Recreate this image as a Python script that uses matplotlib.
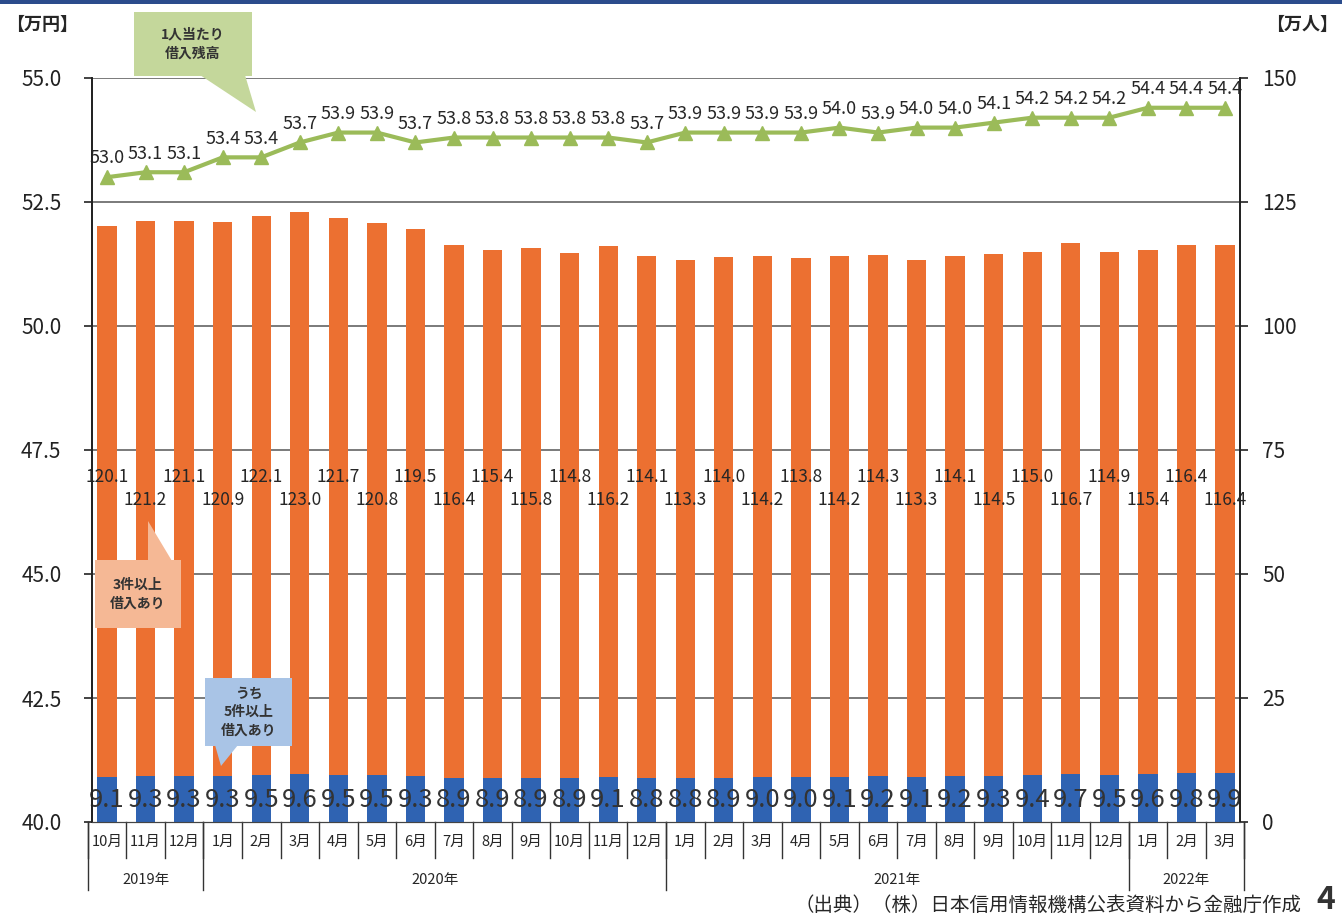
"""Multiple-borrower trend chart (bars + line, twin axes)."""
import matplotlib.pyplot as plt
from matplotlib.patches import Polygon, Rectangle
from matplotlib.transforms import blended_transform_factory

plt.rcParams["font.family"] = ["Noto Sans CJK JP", "DejaVu Sans"]

# %% Data
months = ["10月", "11月", "12月",
          "1月", "2月", "3月", "4月", "5月", "6月", "7月", "8月", "9月", "10月", "11月", "12月",
          "1月", "2月", "3月", "4月", "5月", "6月", "7月", "8月", "9月", "10月", "11月", "12月",
          "1月", "2月", "3月"]
years = ["2019年", "2020年", "2021年", "2022年"]
year_counts = [3, 12, 12, 3]

# 3件以上借入あり (万人)
total_people = [120.1, 121.2, 121.1, 120.9, 122.1, 123.0, 121.7, 120.8, 119.5, 116.4,
                115.4, 115.8, 114.8, 116.2, 114.1, 113.3, 114.0, 114.2, 113.8, 114.2,
                114.3, 113.3, 114.1, 114.5, 115.0, 116.7, 114.9, 115.4, 116.4, 116.4]
# うち5件以上借入あり (万人)
five_plus = [9.1, 9.3, 9.3, 9.3, 9.5, 9.6, 9.5, 9.5, 9.3, 8.9,
             8.9, 8.9, 8.9, 9.1, 8.8, 8.8, 8.9, 9.0, 9.0, 9.1,
             9.2, 9.1, 9.2, 9.3, 9.4, 9.7, 9.5, 9.6, 9.8, 9.9]
# 1人当たり借入残高 (万円)
per_person = [53.0, 53.1, 53.1, 53.4, 53.4, 53.7, 53.9, 53.9, 53.7, 53.8,
              53.8, 53.8, 53.8, 53.8, 53.7, 53.9, 53.9, 53.9, 53.9, 54.0,
              53.9, 54.0, 54.0, 54.1, 54.2, 54.2, 54.2, 54.4, 54.4, 54.4]

left_ticks = [40.0, 42.5, 45.0, 47.5, 50.0, 52.5, 55.0]
right_ticks = [0, 25, 50, 75, 100, 125, 150]

ORANGE = "#EC7031"
BLUE = "#2F63B2"
GREEN = "#9BBB59"
TXT = "#262626"

W, H = 1342, 921
fig = plt.figure(figsize=(W / 100, H / 100), dpi=100)
ax = fig.add_axes([92 / W, 1 - 822 / H, (1240 - 92) / W, (822 - 78) / H])
ax2 = ax.twinx()

x = list(range(len(months)))

# %% Bars on the right axis
ax2.bar(x, total_people, width=0.5, color=ORANGE, zorder=2)
ax2.bar(x, five_plus, width=0.5, color=BLUE, zorder=3)
ax2.set_ylim(0, 150)
ax2.set_yticks(right_ticks)
ax2.set_yticklabels([str(t) for t in right_ticks])

for i, (t, f) in enumerate(zip(total_people, five_plus)):
    ty = 69.6 if i % 2 == 0 else 65.0
    ax2.text(i, ty, f"{t:.1f}", ha="center", va="center", fontsize=12.5, color=TXT, zorder=5)
    ax2.text(i, 4.4, f"{f:.1f}", ha="center", va="center", fontsize=18.5, color="#333333",
             zorder=5)

# %% Line on the left axis (draw above bars)
ax.set_zorder(ax2.get_zorder() + 1)
ax.patch.set_visible(False)
ax.plot(x, per_person, color=GREEN, lw=3, marker="^", ms=10, zorder=4)
for i, v in enumerate(per_person):
    ax.annotate(f"{v:.1f}", (i, v), xytext=(0, 7), textcoords="offset points",
                ha="center", va="bottom", fontsize=13, color=TXT)
ax.set_ylim(40, 55)
ax.set_yticks(left_ticks)
ax.set_yticklabels([f"{t:.1f}" for t in left_ticks])
ax.set_xlim(-0.39, len(months) - 0.61)

# grid lines drawn on the left axis scale
for t in left_ticks[1:]:
    ax2.axhline((t - 40) / 15 * 150, color="#6f6f6f", lw=1.3, zorder=1)

for a in (ax, ax2):
    a.set_xticks([])
    a.spines["top"].set_visible(False)
    a.spines["left"].set_color("#222222")
    a.spines["right"].set_color("#222222")
    a.spines["bottom"].set_color("#444444")
    a.spines["left"].set_linewidth(1.3)
    a.spines["right"].set_linewidth(1.3)
ax.tick_params(axis="y", length=6, width=1.2, pad=16, labelsize=15, colors="#222222")
ax2.tick_params(axis="y", length=6, width=1.2, pad=10, labelsize=15, colors="#222222")

# %% Category axis: months row and years row
tr = blended_transform_factory(ax.transData, ax.transAxes)
for i, m in enumerate(months):
    ax.text(i, -0.027, m, transform=tr, ha="center", va="center", fontsize=10.5, color=TXT)
for i in range(len(months) + 1):
    ax.plot([i - 0.5, i - 0.5], [0, -0.048], transform=tr, color="#333333", lw=1, clip_on=False)

start = 0
for yname, n in zip(years, year_counts):
    ax.text(start + n / 2 - 0.5, -0.078, yname, transform=tr, ha="center", va="center",
            fontsize=10.5, color=TXT)
    ax.plot([start - 0.5, start - 0.5], [0, -0.091], transform=tr, color="#333333", lw=1,
            clip_on=False)
    start += n
ax.plot([start - 0.5, start - 0.5], [0, -0.091], transform=tr, color="#333333", lw=1,
        clip_on=False)


# %% Callouts (figure pixel coords, top-left origin)
def px(xp, yp):
    return (xp / W, 1 - yp / H)


def callout(box, tail, color, text, fontsize=10):
    x0, y0, x1, y1 = box
    pts = [px(x0, y0), px(x1, y0), px(x1, y1), px(x0, y1)]
    fig.patches.append(Polygon(pts, closed=True, transform=fig.transFigure,
                               facecolor=color, edgecolor="none", zorder=10))
    fig.patches.append(Polygon([px(*p) for p in tail], closed=True, transform=fig.transFigure,
                               facecolor=color, edgecolor="none", zorder=10))
    fig.text(*px((x0 + x1) / 2, (y0 + y1) / 2), text, ha="center", va="center",
             fontsize=fontsize, fontweight="bold", color="#333333", linespacing=1.4, zorder=11)


callout((134, 12, 252, 76), [(200, 75), (245, 75), (256, 112)], "#C4D79B", "1人当たり\n借入残高")
callout((95, 560, 181, 628), [(148, 561), (172, 561), (148, 521)], "#F5B895", "3件以上\n借入あり")
callout((205, 678, 292, 746), [(215, 745), (238, 745), (221, 766)], "#A9C4E6", "うち\n5件以上\n借入あり")

# %% Headers and footer
fig.patches.append(Rectangle((0, 1 - 4 / H), 1, 4 / H, transform=fig.transFigure,
                             facecolor="#2B4C8C", edgecolor="none"))
fig.text(*px(6, 24), "【万円】", ha="left", va="center", fontsize=13, fontweight="bold", color=TXT)
fig.text(*px(1266, 24), "【万人】", ha="left", va="center", fontsize=13, fontweight="bold", color=TXT)
fig.text(*px(1302, 905), "（出典）（株）日本信用情報機構公表資料から金融庁作成", ha="right",
         va="center", fontsize=14, color=TXT)
fig.text(*px(1326, 900), "4", ha="center", va="center", fontsize=23, fontweight="bold",
         color="#333333")

fig.savefig("out.png", dpi=100)
